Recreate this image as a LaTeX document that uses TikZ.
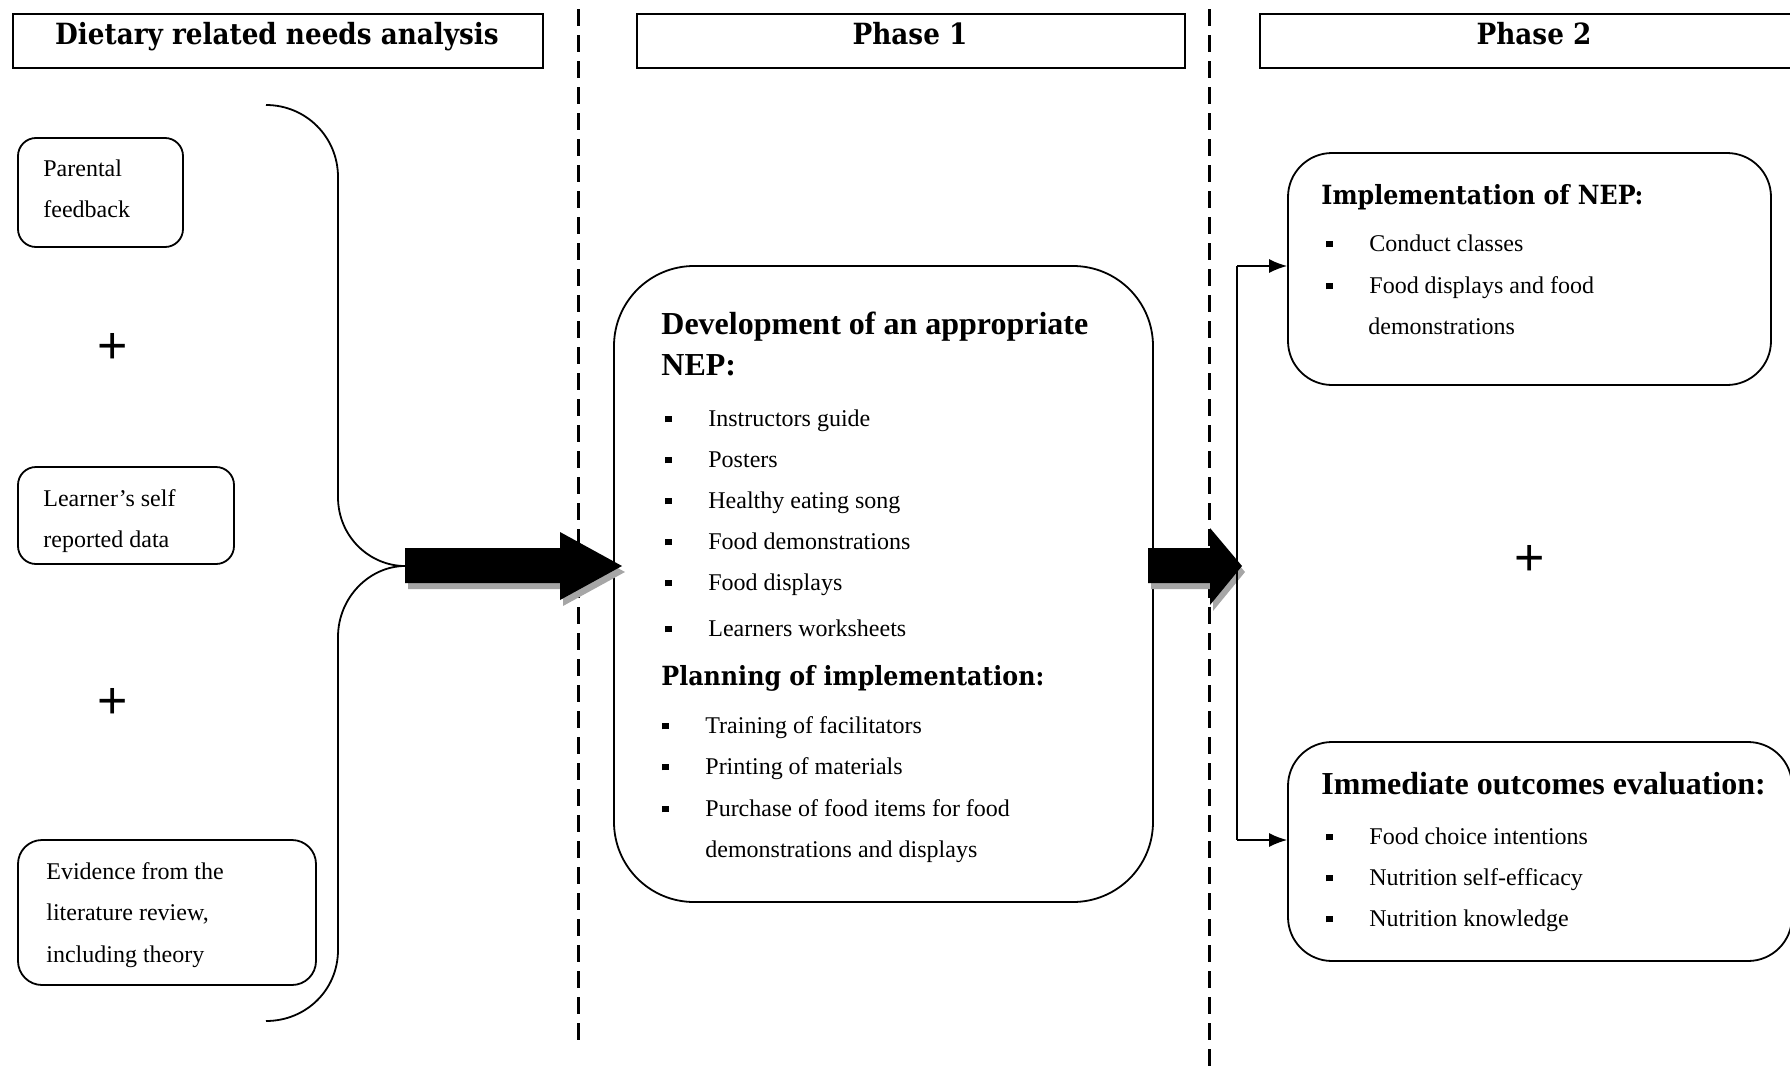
\documentclass[tikz,border=0pt]{standalone}
\usepackage{fontspec}
\setmainfont{Liberation Serif}
\newfontfamily\headfont{DejaVu Serif Condensed}
\newfontfamily\plusfont{Liberation Sans}
\usetikzlibrary{fit,arrows.meta}
% square bullet followed by the indent of a list item
\newcommand\bul{\makebox[21.5pt][l]{\rule[1.8pt]{3.2pt}{3.2pt}}}
\begin{document}
\begin{tikzpicture}[x=0.5pt,y=-0.5pt,
  hbox/.style={draw, line width=0.9pt, inner sep=0pt},
  rbox/.style={draw, line width=0.9pt, inner sep=0pt},
  htext/.style={inner sep=0pt, anchor=base, font=\headfont\bfseries\fontsize{14.6}{16}\selectfont},
  ctext/.style={inner sep=0pt, anchor=base west, font=\headfont\bfseries\fontsize{13.2}{15}\selectfont},
  btext/.style={inner sep=0pt, anchor=base west, font=\bfseries\fontsize{16}{18}\selectfont},
  txt/.style={inner sep=0pt, anchor=base west, font=\fontsize{12}{14}\selectfont},
  plus/.style={inner sep=0pt, font=\plusfont\fontsize{26}{26}\selectfont},
  divider/.style={line width=1.5pt, dash pattern=on 8.5pt off 4.5pt},
  brace/.style={line width=0.9pt},
  link/.style={line width=0.75pt},
  tip/.style={-{Latex[length=9pt,width=7pt]}},
  blockarrow/.style={fill=black},
  blockshadow/.style={fill=black!35},
]
\useasboundingbox (0,0) rectangle (1790,1071);

% column headers
\node[hbox, fit={(13,14) (543,68)}] (hA) {};
\node[htext] (hAt) at (277,44) {Dietary related needs analysis};
\node[hbox, fit={(637,14) (1185,68)}] (hB) {};
\node[htext] (hBt) at (910,44) {Phase 1};
\node[hbox, fit={(1260,14) (1800,68)}] (hC) {};
\node[htext] (hCt) at (1534,44) {Phase 2};

% column dividers
\draw[divider] (578,9) -- (578,1045);
\draw[divider] (1209,9) -- (1209,1071);

% needs analysis sources
\node[rbox, rounded corners=9pt, fit={(18,138) (183,247)}] (parental) {};
\node[txt] (parental1) at (43,176) {Parental};
\node[txt] (parental2) at (43,217) {feedback};

\node[plus] (plusA) at (113,348) {+};

\node[rbox, rounded corners=9pt, fit={(18,467) (234,564)}] (learner) {};
\node[txt] (learner1) at (43,506) {Learner’s self};
\node[txt] (learner2) at (43,547) {reported data};

\node[plus] (plusB) at (113,703) {+};

\node[rbox, rounded corners=12pt, fit={(18,840) (316,985)}] (evidence) {};
\node[txt] (evidence1) at (46,879) {Evidence from the};
\node[txt] (evidence2) at (46,920) {literature review,};
\node[txt] (evidence3) at (46,962) {including theory};

% brace gathering the three sources
\coordinate (bracetip) at (405,566);
\draw[brace] (266,105) .. controls (306,105) and (338,137) .. (338,177)
  -- (338,497) .. controls (338,537) and (370,566) .. (bracetip)
  .. controls (370,566) and (338,597) .. (338,637)
  -- (338,950) .. controls (338,990) and (306,1021) .. (266,1021);

% phase 1 box
\node[rbox, rounded corners=40pt, fit={(614,266) (1153,902)}] (nep) {};
\node[btext] (nepH1) at (661,334) {Development of an appropriate};
\node[btext] (nepH2) at (661,375) {NEP:};
\node[txt] (nep1) at (665,426) {\bul Instructors guide};
\node[txt] (nep2) at (665,467) {\bul Posters};
\node[txt] (nep3) at (665,508) {\bul Healthy eating song};
\node[txt] (nep4) at (665,549) {\bul Food demonstrations};
\node[txt] (nep5) at (665,590) {\bul Food displays};
\node[txt] (nep6) at (665,636) {\bul Learners worksheets};
\node[ctext] (planH) at (661,685) {Planning of implementation:};
\node[txt] (plan1) at (662,733) {\bul Training of facilitators};
\node[txt] (plan2) at (662,774) {\bul Printing of materials};
\node[txt] (plan3) at (662,816) {\bul Purchase of food items for food};
\node[txt] (plan3b) at (705,857) {demonstrations and displays};

% phase 2 boxes
\node[rbox, rounded corners=22pt, fit={(1288,153) (1771,385)}] (impl) {};
\node[ctext] (implH) at (1321,204) {Implementation of NEP:};
\node[txt] (impl1) at (1326,251) {\bul Conduct classes};
\node[txt] (impl2) at (1326,293) {\bul Food displays and food};
\node[txt] (impl2b) at (1368,334) {demonstrations};

\node[plus] (plusC) at (1530,560) {+};

\node[rbox, rounded corners=22pt, fit={(1288,742) (1792,961)}] (eval) {};
\node[btext] (evalH) at (1321,794) {Immediate outcomes evaluation:};
\node[txt] (eval1) at (1326,844) {\bul Food choice intentions};
\node[txt] (eval2) at (1326,885) {\bul Nutrition self-efficacy};
\node[txt] (eval3) at (1326,926) {\bul Nutrition knowledge};

% block arrows with their shadows
\fill[blockshadow, shift={(3,6)}] (405,548) -- (560,548) -- (560,532)
  -- (622,566) -- (560,600) -- (560,583) -- (405,583) -- cycle;
\fill[blockarrow] (bracetip) ++(0,-18) -- (560,548) -- (560,532)
  -- (622,566) -- (560,600) -- (560,583) -- (405,583) -- cycle;

\coordinate (fork) at (1237,566);
\fill[blockshadow, shift={(3,6)}] (1148,548) -- (1210,548) -- (1210,528)
  -- (1242,566) -- (1210,605) -- (1210,583) -- (1148,583) -- cycle;
\fill[blockarrow] (1148,548) -- (1210,548) -- (1210,528)
  -- (1242,566) -- (1210,605) -- (1210,583) -- (1148,583) -- cycle;

% split towards the two phase 2 activities
\coordinate (forkT) at (1237,266);
\coordinate (forkB) at (1237,840);
\draw[link] (forkT) -- (forkB);
\draw[link, tip] (forkT) -- (forkT -| impl.west);
\draw[link, tip] (forkB) -- (forkB -| eval.west);
\end{tikzpicture}
\end{document}
